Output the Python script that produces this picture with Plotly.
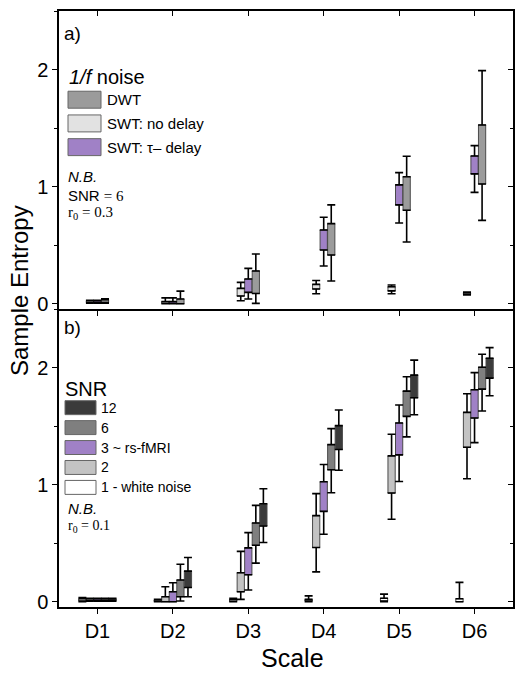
import plotly.graph_objects as go

# ---------------- data ----------------
scales = ["D1", "D2", "D3", "D4", "D5", "D6"]

# Panel a) 1/f noise : lower whisker, Q1, Q3, upper whisker
a_nodelay_lo = [0.005, 0.000, 0.026, 0.085, 0.085, 0.075]
a_nodelay_q1 = [0.010, 0.002, 0.066, 0.126, 0.110, 0.080]
a_nodelay_q3 = [0.025, 0.018, 0.131, 0.165, 0.145, 0.095]
a_nodelay_hi = [0.030, 0.050, 0.182, 0.199, 0.160, 0.100]

a_tau_lo = [0.005, 0.000, 0.040, 0.322, 0.690, 0.951]
a_tau_q1 = [0.010, 0.002, 0.097, 0.459, 0.844, 1.109]
a_tau_q3 = [0.025, 0.018, 0.211, 0.630, 1.015, 1.262]
a_tau_hi = [0.030, 0.050, 0.302, 0.738, 1.120, 1.350]

a_dwt_lo = [0.005, 0.000, 0.003, 0.194, 0.527, 0.712]
a_dwt_q1 = [0.010, 0.000, 0.088, 0.416, 0.798, 1.023]
a_dwt_q3 = [0.035, 0.040, 0.280, 0.684, 1.085, 1.527]
a_dwt_hi = [0.042, 0.108, 0.425, 0.844, 1.259, 1.991]

# Panel b) SNR levels
b_snr1_lo = [0.000, 0.000, 0.000, 0.000, 0.000, 0.000]
b_snr1_q1 = [0.005, 0.002, 0.003, 0.005, 0.005, 0.000]
b_snr1_q3 = [0.025, 0.015, 0.020, 0.020, 0.030, 0.025]
b_snr1_hi = [0.035, 0.020, 0.030, 0.050, 0.065, 0.165]

b_snr2_lo = [0.005, 0.000, 0.020, 0.255, 0.704, 1.050]
b_snr2_q1 = [0.010, 0.000, 0.085, 0.463, 0.928, 1.319]
b_snr2_q3 = [0.025, 0.043, 0.247, 0.735, 1.246, 1.617]
b_snr2_hi = [0.030, 0.128, 0.430, 0.923, 1.430, 1.776]

b_snr3_lo = [0.005, 0.000, 0.100, 0.576, 1.027, 1.359]
b_snr3_q1 = [0.010, 0.000, 0.230, 0.772, 1.254, 1.569]
b_snr3_q3 = [0.025, 0.085, 0.460, 1.025, 1.527, 1.810]
b_snr3_hi = [0.030, 0.162, 0.590, 1.172, 1.680, 1.957]

b_snr6_lo = [0.005, 0.006, 0.330, 0.931, 1.408, 1.629]
b_snr6_q1 = [0.010, 0.043, 0.482, 1.127, 1.583, 1.816]
b_snr6_q3 = [0.025, 0.185, 0.672, 1.342, 1.799, 2.003]
b_snr6_hi = [0.030, 0.320, 0.823, 1.478, 1.921, 2.114]

b_snr12_lo = [0.005, 0.043, 0.506, 1.123, 1.597, 1.759]
b_snr12_q1 = [0.010, 0.122, 0.647, 1.300, 1.742, 1.910]
b_snr12_q3 = [0.025, 0.261, 0.837, 1.504, 1.935, 2.080]
b_snr12_hi = [0.030, 0.378, 0.965, 1.637, 2.063, 2.170]

# ---------------- styling ----------------
# the page body adds an 8px offset; size the figure so it fits the 523x676 window
BODY = 8
W, H = 523 - BODY, 676 - BODY
ML, MR, MT, MB = 59 - BODY, 10, 9 - BODY, 69
PW, PH = W - ML - MR, H - MT - MB
SANS = "Liberation Sans, Arial, sans-serif"
SERIF = "Liberation Serif, Times New Roman, serif"
C_PURPLE = "#a081c6"
OUTLINE = "#4a4a4a"
BOXW = 0.096
STEP = 0.1

panel_a = [
    ("SWT: no delay", "#e2e2e2", a_nodelay_lo, a_nodelay_q1, a_nodelay_q3, a_nodelay_hi),
    ("SWT: τ– delay", C_PURPLE, a_tau_lo, a_tau_q1, a_tau_q3, a_tau_hi),
    ("DWT", "#9b9b9b", a_dwt_lo, a_dwt_q1, a_dwt_q3, a_dwt_hi),
]
panel_b = [
    ("1 - white noise", "#ffffff", b_snr1_lo, b_snr1_q1, b_snr1_q3, b_snr1_hi),
    ("2", "#c3c3c3", b_snr2_lo, b_snr2_q1, b_snr2_q3, b_snr2_hi),
    ("3 ~ rs-fMRI", C_PURPLE, b_snr3_lo, b_snr3_q1, b_snr3_q3, b_snr3_hi),
    ("6", "#7f7f7f", b_snr6_lo, b_snr6_q1, b_snr6_q3, b_snr6_hi),
    ("12", "#3b3b3b", b_snr12_lo, b_snr12_q1, b_snr12_q3, b_snr12_hi),
]

fig = go.Figure()


def add_boxes(series, xa, ya):
    n = len(series)
    for k, (name, col, lo, q1, q3, hi) in enumerate(series):
        off = (k - (n - 1) / 2) * STEP
        xs = [i + 1 + off for i in range(len(scales))]
        fig.add_trace(go.Bar(
            x=xs, y=[b - a for a, b in zip(q1, q3)], base=q1, width=BOXW,
            marker=dict(color=col, line=dict(color=OUTLINE, width=1)),
            xaxis=xa, yaxis=ya, showlegend=False, name=name, hoverinfo="skip"))
        fig.add_trace(go.Scatter(
            x=xs, y=q3, mode="markers", marker=dict(size=1, opacity=0),
            error_y=dict(type="data", symmetric=False,
                         array=[h - t for h, t in zip(hi, q3)],
                         arrayminus=[0] * len(q3),
                         color="black", thickness=1.6, width=4),
            xaxis=xa, yaxis=ya, showlegend=False, hoverinfo="skip"))
        fig.add_trace(go.Scatter(
            x=xs, y=q1, mode="markers", marker=dict(size=1, opacity=0),
            error_y=dict(type="data", symmetric=False,
                         array=[0] * len(q1),
                         arrayminus=[b - l for b, l in zip(q1, lo)],
                         color="black", thickness=1.6, width=4),
            xaxis=xa, yaxis=ya, showlegend=False, hoverinfo="skip"))


add_boxes(panel_a, "x2", "y2")
add_boxes(panel_b, "x", "y")

# dummy traces so overlay (mirror) axes are drawn
for xa, ya in [("x3", "y"), ("x", "y3"), ("x4", "y2"), ("x2", "y4")]:
    fig.add_trace(go.Scatter(x=[None], y=[None], xaxis=xa, yaxis=ya,
                             showlegend=False, hoverinfo="skip"))

XR = [0.49, 6.51]
YR = [-0.045, 2.5]
tickv = list(range(1, len(scales) + 1))

xcommon = dict(range=XR, tickvals=tickv, ticklen=5, tickwidth=1.3, tickcolor="black",
               showgrid=False, zeroline=False)
ybase = dict(range=YR, tick0=0, dtick=1, ticklen=5, tickwidth=1.3, tickcolor="black",
             showgrid=False, zeroline=False)
yminor = dict(dtick=0.5, ticklen=3, tickwidth=1.3, tickcolor="black", showgrid=False)

fig.update_layout(
    width=W, height=H,
    margin=dict(l=ML, r=MR, t=MT, b=MB),
    paper_bgcolor="white", plot_bgcolor="white",
    barmode="overlay",
    font=dict(family=SANS, color="black"),
    xaxis=dict(**xcommon, domain=[0, 1], anchor="y", ticks="outside",
               ticktext=scales, showline=True, linecolor="black", linewidth=1.5,
               mirror=False, tickfont=dict(size=20, family=SANS)),
    xaxis2=dict(**xcommon, domain=[0, 1], anchor="y2", ticks="outside",
                showticklabels=False, showline=True, linecolor="black",
                linewidth=1.5, mirror=True),
    xaxis3=dict(**xcommon, overlaying="x", anchor="y", side="top", ticks="inside",
                showticklabels=False, showline=False),
    xaxis4=dict(**xcommon, overlaying="x2", anchor="y2", side="top", ticks="inside",
                showticklabels=False, showline=False),
    yaxis=dict(**ybase, minor=dict(yminor, ticks="outside"),
               domain=[0, 0.5], anchor="x", ticks="outside",
               showline=True, linecolor="black", linewidth=1.5, mirror=True,
               tickfont=dict(size=20, family=SANS)),
    yaxis2=dict(**ybase, minor=dict(yminor, ticks="outside"),
                domain=[0.5, 1], anchor="x2", ticks="outside",
                showline=True, linecolor="black", linewidth=1.5, mirror=True,
                tickfont=dict(size=20, family=SANS)),
    yaxis3=dict(**ybase, minor=dict(yminor, ticks="inside"),
                overlaying="y", anchor="x", side="right", ticks="inside",
                showticklabels=False, showline=False),
    yaxis4=dict(**ybase, minor=dict(yminor, ticks="inside"),
                overlaying="y2", anchor="x2", side="right", ticks="inside",
                showticklabels=False, showline=False),
)


# ---------------- decorations (reference-pixel -> paper helpers) ----------------
def px(x):
    return (x - 59) / PW


def py(y):
    return (607 - y) / PH


annos = []
shapes = []


def text(t, x, y, size, family=SANS, xanchor="left"):
    annos.append(dict(text=t, x=px(x), y=py(y), xref="paper", yref="paper",
                      xanchor=xanchor, yanchor="middle", showarrow=False,
                      borderpad=0,
                      font=dict(size=size, family=family, color="black")))


def swatch(x0, y0, x1, y1, col):
    shapes.append(dict(type="rect", xref="paper", yref="paper",
                       x0=px(x0), x1=px(x1), y0=py(y1), y1=py(y0),
                       fillcolor=col, line=dict(color="#666666", width=1)))


# panel a
text("a)", 63, 32, 19)
text("<i>1/f</i> noise", 68, 75, 20)
leg_a = [("DWT", "#9b9b9b"), ("SWT: no delay", "#e2e2e2"), ("SWT: τ– delay", C_PURPLE)]
for i, (lab, col) in enumerate(leg_a):
    yc = 98 + i * 23.8
    swatch(68, yc - 8.5, 101, yc + 8.5, col)
    text(lab, 106, yc, 15)
text("<i>N.B.</i>", 67, 175, 15)
text("SNR <span style='font-family:Liberation Serif'>= 6</span>", 67, 194, 15)
text("r<sub>0</sub> = 0.3", 67, 212, 15, family=SERIF)

# panel b
text("b)", 63, 327, 19)
text("SNR", 64, 388, 20)
leg_b = [("12", "#3b3b3b"), ("6", "#7f7f7f"), ("3 ~ rs-fMRI", C_PURPLE),
         ("2", "#c3c3c3"), ("1 - white noise", "#ffffff")]
for i, (lab, col) in enumerate(leg_b):
    yc = 407 + i * 20
    swatch(65, yc - 7, 96, yc + 7, col)
    text(lab, 100, yc, 14)
text("<i>N.B.</i>", 67, 508, 15)
text("r<sub>0</sub> = 0.1", 67, 526, 14, family=SERIF)

# axis titles
annos.append(dict(text="Sample Entropy", x=px(19), y=py(290), xref="paper", yref="paper",
                  xanchor="center", yanchor="middle", textangle=-90, showarrow=False,
                  font=dict(size=24, family=SANS, color="black")))
annos.append(dict(text="Scale", x=px(292), y=py(658), xref="paper", yref="paper",
                  xanchor="center", yanchor="middle", showarrow=False,
                  font=dict(size=25, family=SANS, color="black")))

fig.update_layout(annotations=annos, shapes=shapes)

fig.write_html("out.html")
